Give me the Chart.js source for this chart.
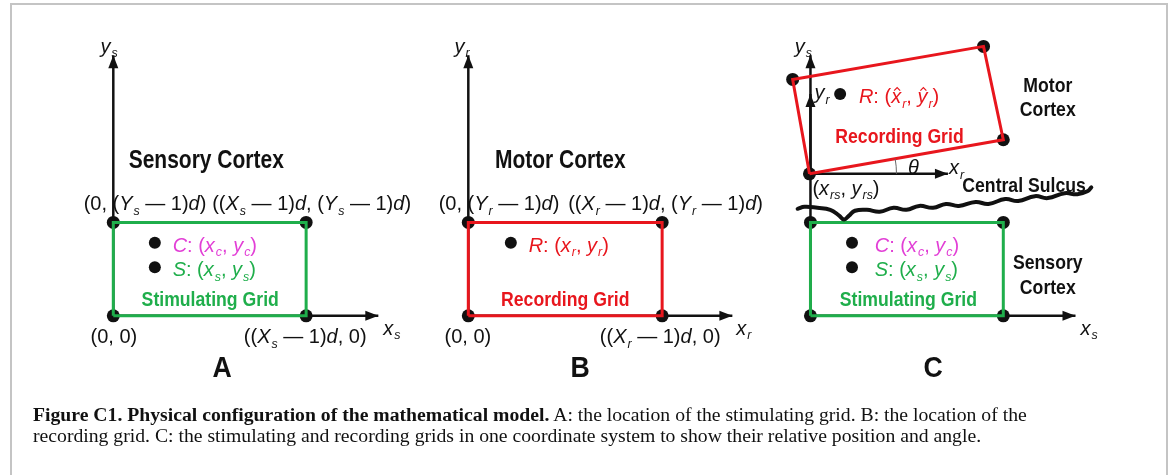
<!DOCTYPE html>
<html>
<head>
<meta charset="utf-8">
<script src="https://cdn.jsdelivr.net/npm/chart.js@4.4.1/dist/chart.umd.min.js"></script>
<style>
  html, body { margin: 0; padding: 0; background: #fff; }
  #wrap { position: relative; width: 1170px; height: 475px; overflow: hidden; }
  #frame { position: absolute; left: 10px; top: 3px; width: 1154px; height: 600px; border: 2px solid #c4c4c4; }
  canvas { position: absolute; left: 0; top: 0; }
  #caption { position: absolute; left: 33px; top: 404px; font-family: "Liberation Serif", "DejaVu Serif", serif;
    font-size: 19.7px; line-height: 21px; color: #111; white-space: nowrap; }
</style>
</head>
<body>
<div id="wrap">
  <div id="frame"></div>
  <canvas id="diagram" width="1170" height="475"></canvas>
  <div id="caption"><b>Figure C1. Physical configuration of the mathematical model.</b> A: the location of the stimulating grid. B: the location of the<br>recording grid. C: the stimulating and recording grids in one coordinate system to show their relative position and angle.</div>
</div>
<script>
// Diagram coordinates (figure units, y grows downwards)
const gridA = [[108, 318], [303, 318], [303, 222], [108, 222]];
const gridB = [[467, 318], [663, 318], [663, 222], [467, 222]];
const gridCStim = [[813, 318], [1008, 318], [1008, 222], [813, 222]];
const gridCRec = [[812, 172], [1008, 137], [988, 41], [795, 75]];

// axes: [from, to] with arrowhead at "to"
const axisLines = [
  [[108, 318], [108, 50]], [[108, 318], [376, 318]],
  [[467, 318], [467, 50]], [[467, 318], [734, 318]],
  [[813, 318], [813, 50]], [[813, 318], [1081, 318]],
  [[813, 172], [813, 90]], [[813, 172], [952, 172]]
];

const innerDots = [[150, 243], [150, 268], [510, 243], [843, 90], [855, 243], [855, 268]];

const sulcus = [
  [800, 208], [807, 206], [820, 207], [833, 209], [842, 215], [847, 219], [852, 215],
  [858, 210], [870, 209], [883, 211], [897, 207], [910, 209], [923, 205], [937, 207],
  [950, 203], [963, 205], [980, 201], [993, 203], [1010, 198], [1023, 200], [1040, 195],
  [1053, 197], [1070, 192], [1083, 193], [1093, 190], [1097, 186]
];

const thetaOrigin = [812, 172];
const thetaDeg = 10;
const thetaRadius = 87;

const green = '#1fae4b', red = '#e8161d', magenta = '#e23fd6', ink = '#111';

// labels: *..* italic, _{..} subscript, ~x hatted italic letter
const labels = [
  { t: 'Sensory Cortex', x: 202, y: 157, k: 'head', a: 'center' },
  { t: '(0, (*Y*_{s} — 1)*d*)', x: 78, y: 202, k: 'math' },
  { t: '((*X*_{s} — 1)*d*, (*Y*_{s} — 1)*d*)', x: 208, y: 202, k: 'math' },
  { t: '(0, 0)', x: 85, y: 339, k: 'math' },
  { t: '((*X*_{s} — 1)*d*, 0)', x: 240, y: 339, k: 'math' },
  { t: '*C*: (*x*_{c}, *y*_{c})', x: 168, y: 245, k: 'math', c: magenta },
  { t: '*S*: (*x*_{s}, *y*_{s})', x: 168, y: 270, k: 'math', c: green },
  { t: 'Stimulating Grid', x: 206, y: 300, k: 'grid', a: 'center', c: green },
  { t: 'A', x: 218, y: 370, k: 'panel', a: 'center' },
  { t: '*y*_{s}', x: 95, y: 40, k: 'math' },
  { t: '*x*_{s}', x: 381, y: 330, k: 'math' },

  { t: 'Motor Cortex', x: 560, y: 157, k: 'head', a: 'center' },
  { t: '(0, (*Y*_{r} — 1)*d*)', x: 437, y: 202, k: 'math' },
  { t: '((*X*_{r} — 1)*d*, (*Y*_{r} — 1)*d*)', x: 568, y: 202, k: 'math' },
  { t: '(0, 0)', x: 443, y: 339, k: 'math' },
  { t: '((*X*_{r} — 1)*d*, 0)', x: 600, y: 339, k: 'math' },
  { t: '*R*: (*x*_{r}, *y*_{r})', x: 528, y: 245, k: 'math', c: red },
  { t: 'Recording Grid', x: 565, y: 300, k: 'grid', a: 'center', c: red },
  { t: 'B', x: 580, y: 370, k: 'panel', a: 'center' },
  { t: '*y*_{r}', x: 453, y: 40, k: 'math' },
  { t: '*x*_{r}', x: 738, y: 330, k: 'math' },

  { t: '*y*_{s}', x: 797, y: 40, k: 'math' },
  { t: '*y*_{r}', x: 817, y: 88, k: 'math' },
  { t: '*R*: (~x_{r}, ~y_{r})', x: 862, y: 92, k: 'math', c: red },
  { t: 'Recording Grid', x: 903, y: 133, k: 'grid', a: 'center', c: red },
  { t: '*θ*', x: 917, y: 165, k: 'math', a: 'center' },
  { t: '*x*_{r}', x: 953, y: 165, k: 'math' },
  { t: '(*x*_{rs}, *y*_{rs})', x: 815, y: 186, k: 'math' },
  { t: 'Central Sulcus', x: 1029, y: 183, k: 'grid', a: 'center' },
  { t: 'Motor', x: 1053, y: 80, k: 'grid', a: 'center' },
  { t: 'Cortex', x: 1053, y: 105, k: 'grid', a: 'center' },
  { t: '*C*: (*x*_{c}, *y*_{c})', x: 878, y: 245, k: 'math', c: magenta },
  { t: '*S*: (*x*_{s}, *y*_{s})', x: 878, y: 270, k: 'math', c: green },
  { t: 'Stimulating Grid', x: 912, y: 300, k: 'grid', a: 'center', c: green },
  { t: 'Sensory', x: 1053, y: 262, k: 'grid', a: 'center' },
  { t: 'Cortex', x: 1053, y: 288, k: 'grid', a: 'center' },
  { t: 'C', x: 937, y: 370, k: 'panel', a: 'center' },
  { t: '*x*_{s}', x: 1086, y: 330, k: 'math' }
];

const FONT = '"Liberation Sans", Arial, sans-serif';
const toPts = arr => arr.map(([x, y]) => ({ x, y }));
const closed = arr => toPts(arr.concat([arr[0]]));

function parseRich(s) {
  const toks = [];
  let it = false, i = 0;
  while (i < s.length) {
    const c = s[i];
    if (c === '*') { it = !it; i++; continue; }
    if (c === '_' && s[i + 1] === '{') {
      const j = s.indexOf('}', i);
      toks.push({ s: s.slice(i + 2, j), it: true, sub: true });
      i = j + 1; continue;
    }
    if (c === '~') { toks.push({ s: s[i + 1], it: true, hat: true }); i += 2; continue; }
    toks.push({ s: c, it: it });
    i++;
  }
  return toks;
}

function drawRich(ctx, lab, size) {
  const toks = parseRich(lab.t);
  const fontOf = t => (t.it ? 'italic ' : '') + (t.sub ? size * 0.62 : size) + 'px ' + FONT;
  let total = 0;
  toks.forEach(t => { ctx.font = fontOf(t); t.w = ctx.measureText(t.s).width + (t.sub ? 1 : 0); total += t.w; });
  let cx = lab.a === 'center' ? lab.px - total / 2 : lab.px;
  const base = lab.py + size * 0.36;
  ctx.fillStyle = lab.c || ink;
  ctx.strokeStyle = lab.c || ink;
  ctx.textAlign = 'left';
  ctx.textBaseline = 'alphabetic';
  toks.forEach(t => {
    ctx.font = fontOf(t);
    ctx.fillText(t.s, cx + (t.sub ? 1 : 0), t.sub ? base + size * 0.22 : base);
    if (t.hat) {
      const hx = cx + t.w / 2 + 1, hy = base - size * 0.78;
      ctx.lineWidth = 1.2;
      ctx.beginPath();
      ctx.moveTo(hx - 3, hy + 3); ctx.lineTo(hx, hy); ctx.lineTo(hx + 3, hy + 3);
      ctx.stroke();
    }
    cx += t.w;
  });
}

function drawBold(ctx, lab, size, squeeze) {
  ctx.save();
  ctx.font = 'bold ' + size + 'px ' + FONT;
  ctx.fillStyle = lab.c || ink;
  ctx.textBaseline = 'alphabetic';
  ctx.textAlign = lab.a === 'center' ? 'center' : 'left';
  ctx.translate(lab.px, lab.py + size * 0.36);
  ctx.scale(squeeze, 1);
  ctx.fillText(lab.t, 0, 0);
  ctx.restore();
}

const diagramPlugin = {
  id: 'diagram',
  afterDatasetsDraw(chart) {
    const { ctx, scales: { x, y } } = chart;
    ctx.save();
    // arrowheads
    ctx.fillStyle = ink;
    axisLines.forEach(([p0, p1]) => {
      const x0 = x.getPixelForValue(p0[0]), y0 = y.getPixelForValue(p0[1]);
      const x1 = x.getPixelForValue(p1[0]), y1 = y.getPixelForValue(p1[1]);
      const ang = Math.atan2(y1 - y0, x1 - x0);
      const L = 13, Wd = 5;
      ctx.save();
      ctx.translate(x1, y1);
      ctx.rotate(ang);
      ctx.beginPath();
      ctx.moveTo(0, 0); ctx.lineTo(-L, -Wd); ctx.lineTo(-L, Wd); ctx.closePath();
      ctx.fill();
      ctx.restore();
    });
    // theta arc
    const ox = x.getPixelForValue(thetaOrigin[0]), oy = y.getPixelForValue(thetaOrigin[1]);
    ctx.strokeStyle = '#666';
    ctx.lineWidth = 1;
    ctx.beginPath();
    ctx.arc(ox, oy, thetaRadius, -thetaDeg * Math.PI / 180, 0);
    ctx.stroke();
    // text
    labels.forEach(lab => {
      lab.px = x.getPixelForValue(lab.x);
      lab.py = y.getPixelForValue(lab.y);
      if (lab.k === 'math') drawRich(ctx, lab, 20);
      else if (lab.k === 'head') drawBold(ctx, lab, 25, 0.84);
      else if (lab.k === 'grid') drawBold(ctx, lab, 21, 0.84);
      else drawBold(ctx, lab, 29, 0.92);
    });
    ctx.restore();
  }
};

const lineSet = (pts, color, width, order) => ({
  data: pts, showLine: true, borderColor: color, borderWidth: width, pointRadius: 0,
  fill: false, clip: false, order: order, borderJoinStyle: 'miter', borderCapStyle: 'butt'
});

const datasets = [];
// corner dots
[gridA, gridB, gridCStim, gridCRec].forEach(g => {
  datasets.push({ data: toPts(g), showLine: false, pointRadius: 6.5, pointBackgroundColor: ink,
    pointBorderWidth: 0, clip: false, order: 5 });
});
datasets.push({ data: toPts(innerDots), showLine: false, pointRadius: 6, pointBackgroundColor: ink,
  pointBorderWidth: 0, clip: false, order: 5 });
// axes
axisLines.forEach(l => datasets.push(lineSet(toPts(l), ink, 2.5, 3)));
// grids
datasets.push(lineSet(closed(gridA), green, 3, 1));
datasets.push(lineSet(closed(gridB), red, 3, 1));
datasets.push(lineSet(closed(gridCStim), green, 3, 1));
datasets.push(lineSet(closed(gridCRec), red, 3, 1));
// central sulcus
datasets.push(Object.assign(lineSet(toPts(sulcus), ink, 4, 0), { tension: 0.45, borderCapStyle: 'round', borderJoinStyle: 'round' }));

new Chart(document.getElementById('diagram'), {
  type: 'scatter',
  data: { datasets },
  options: {
    responsive: false,
    devicePixelRatio: 1,
    animation: false,
    events: [],
    layout: { padding: 0 },
    plugins: { legend: { display: false }, tooltip: { enabled: false } },
    scales: {
      x: { type: 'linear', min: 0, max: 1170, display: false },
      y: { type: 'linear', min: 0, max: 475, reverse: true, display: false }
    }
  },
  plugins: [diagramPlugin]
});
</script>
</body>
</html>
